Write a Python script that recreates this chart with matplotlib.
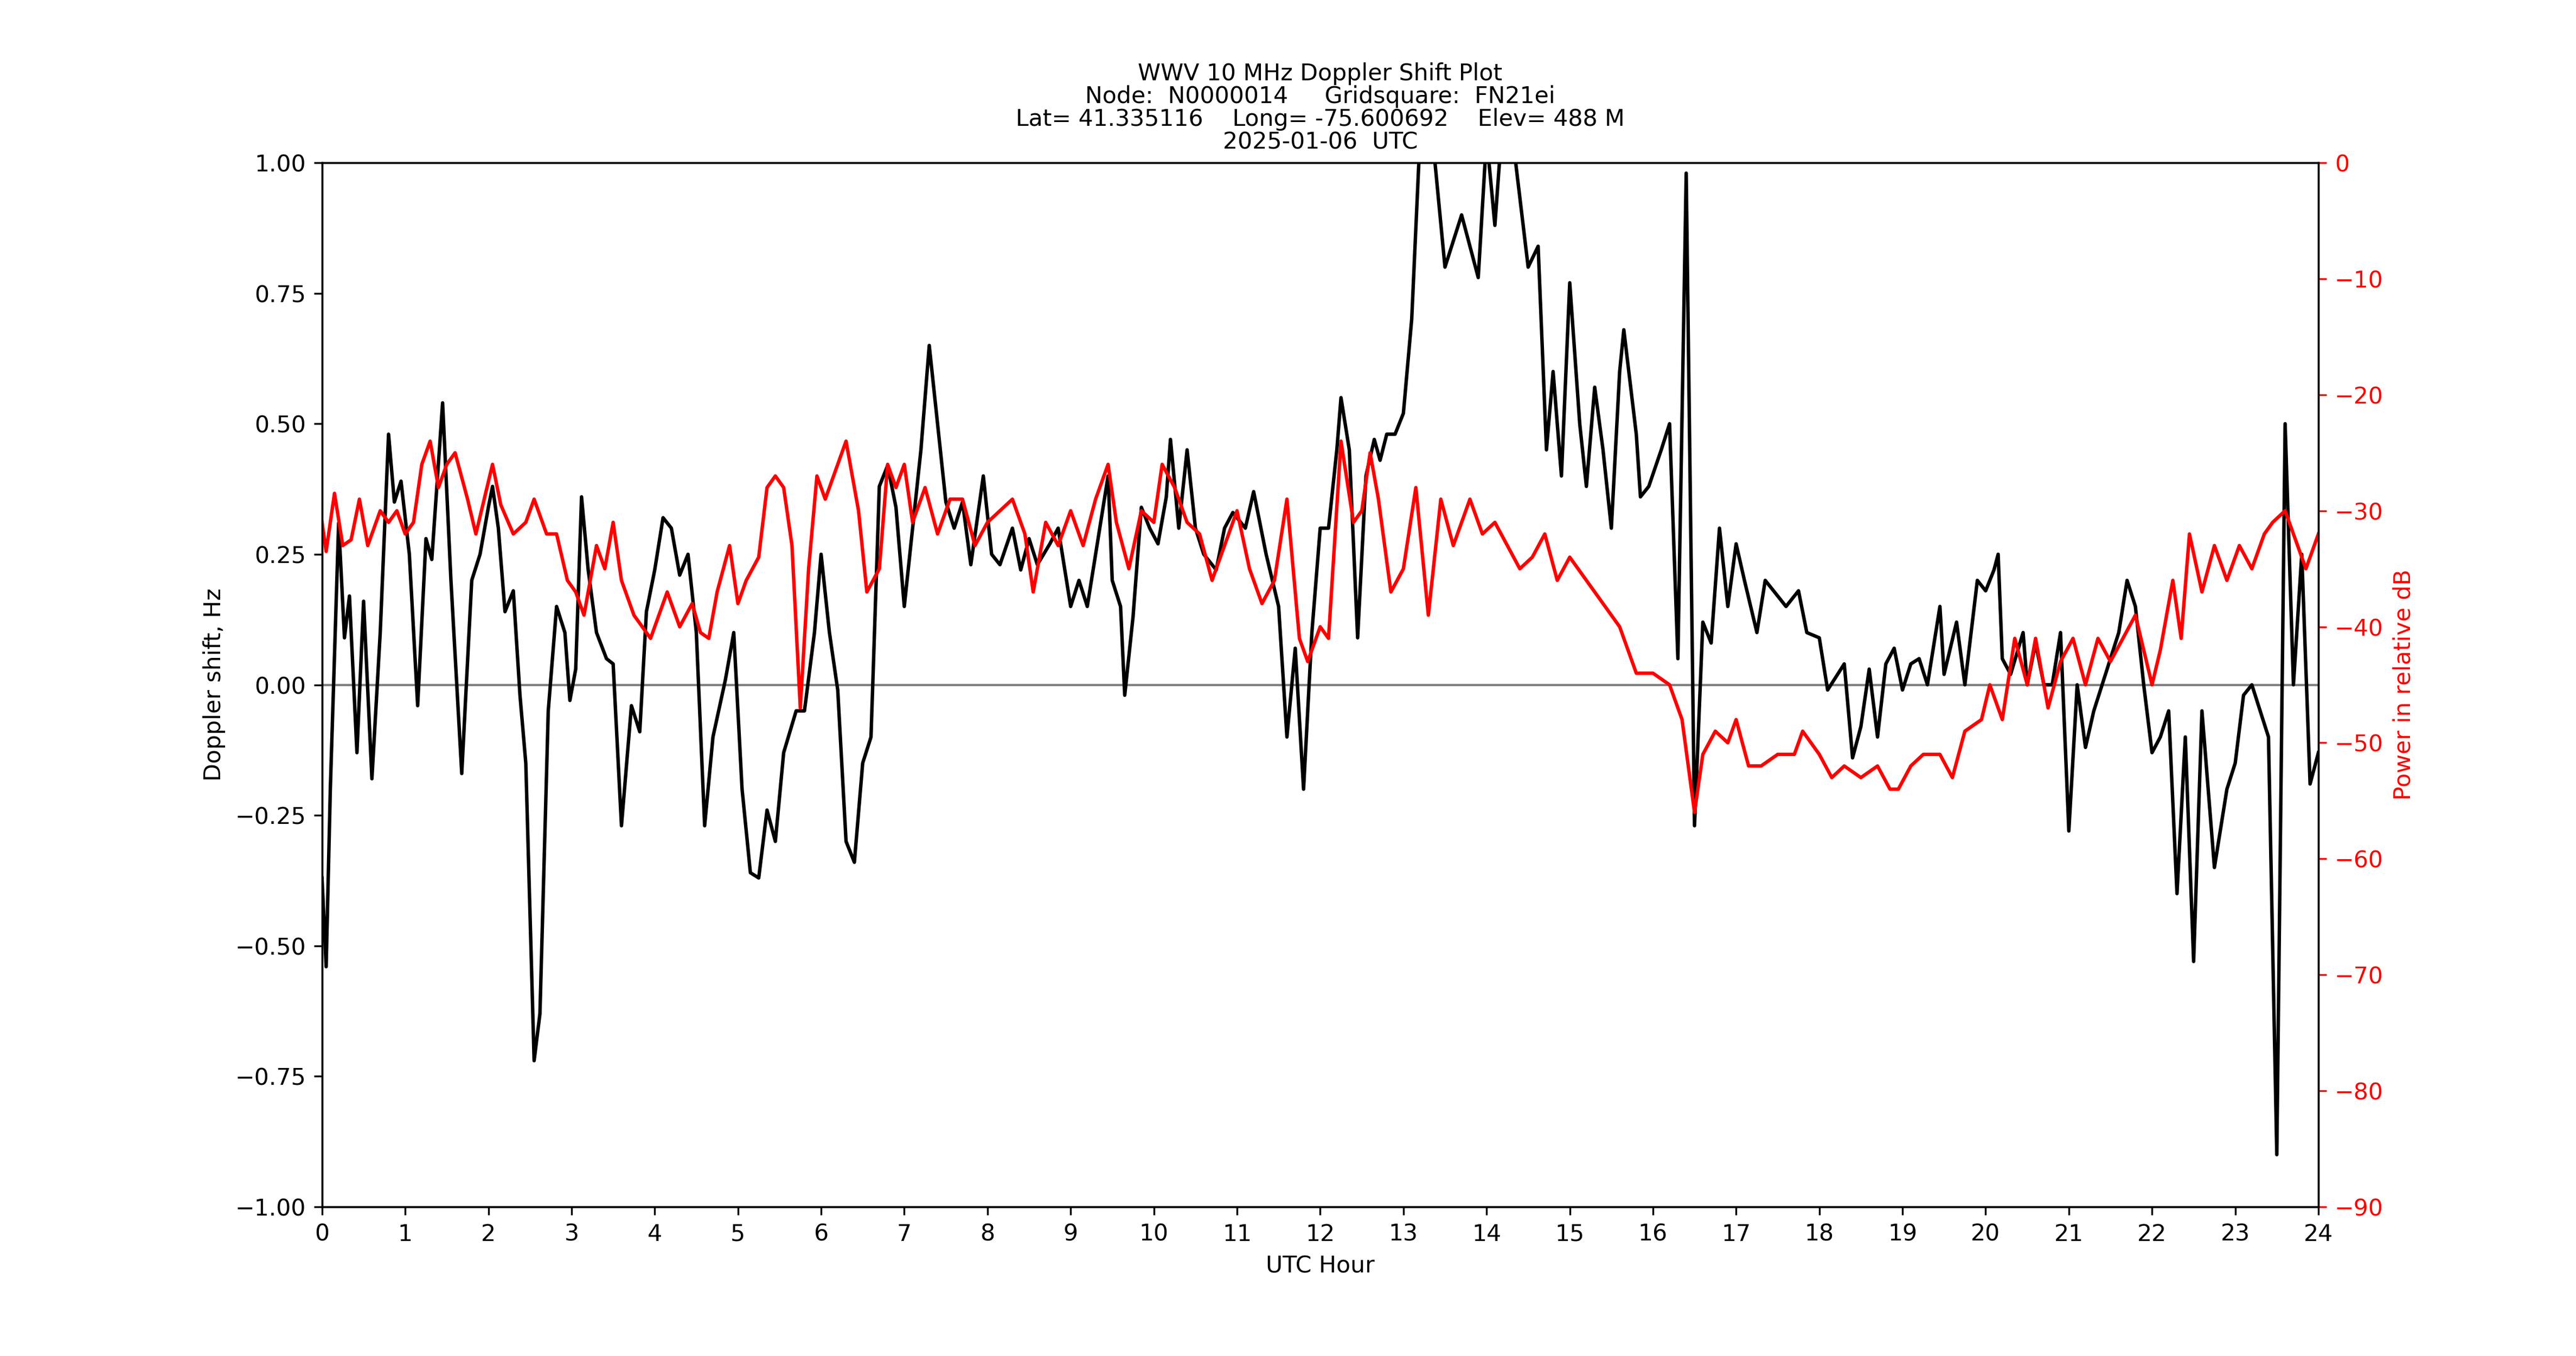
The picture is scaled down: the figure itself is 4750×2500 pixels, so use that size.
import numpy as np
from matplotlib import pyplot as plt

# Doppler shift (hours, Hz)
dop_hr = [0, 0.05, 0.1, 0.2, 0.27, 0.33, 0.42, 0.5, 0.6, 0.7, 0.8, 0.87, 0.95, 1.05, 1.15, 1.25, 1.32, 1.45, 1.55, 1.68,
          1.8, 1.9, 2.0, 2.05, 2.12, 2.2, 2.3, 2.38, 2.45, 2.55, 2.62, 2.72, 2.82, 2.92, 2.98, 3.05, 3.12, 3.2, 3.3, 3.42,
          3.5, 3.6, 3.72, 3.82, 3.9, 4.0, 4.1, 4.2, 4.3, 4.4, 4.5, 4.6, 4.7, 4.85, 4.95, 5.05, 5.15, 5.25, 5.35, 5.45,
          5.55, 5.7, 5.8, 5.92, 6.0, 6.1, 6.2, 6.3, 6.4, 6.5, 6.6, 6.7, 6.8, 6.9, 7.0, 7.1, 7.2, 7.3, 7.4, 7.5,
          7.6, 7.7, 7.8, 7.95, 8.05, 8.15, 8.3, 8.4, 8.5, 8.6, 8.75, 8.85, 9.0, 9.1, 9.2, 9.35, 9.45, 9.5, 9.6, 9.65,
          9.75, 9.85, 9.95, 10.05, 10.15, 10.2, 10.3, 10.4, 10.5, 10.6, 10.75, 10.85, 10.95, 11.1, 11.2, 11.35, 11.5, 11.6, 11.7, 11.8,
          11.9, 12.0, 12.1, 12.2, 12.25, 12.35, 12.45, 12.55, 12.65, 12.72, 12.8, 12.9, 13.0, 13.1, 13.2, 13.35, 13.5, 13.7, 13.9, 14.0,
          14.1, 14.2, 14.35, 14.5, 14.62, 14.72, 14.8, 14.9, 15.0, 15.12, 15.2, 15.3, 15.4, 15.5, 15.6, 15.65, 15.8, 15.85, 15.95, 16.1,
          16.2, 16.3, 16.4, 16.5, 16.6, 16.7, 16.8, 16.9, 17.0, 17.1, 17.25, 17.35, 17.5, 17.6, 17.75, 17.85, 18.0, 18.1, 18.3, 18.4,
          18.5, 18.6, 18.7, 18.8, 18.9, 19.0, 19.1, 19.2, 19.3, 19.45, 19.5, 19.65, 19.75, 19.9, 20.0, 20.1, 20.15, 20.2, 20.3, 20.45,
          20.5, 20.6, 20.7, 20.8, 20.9, 21.0, 21.1, 21.2, 21.3, 21.4, 21.5, 21.6, 21.7, 21.8, 21.9, 22.0, 22.1, 22.2, 22.3, 22.4,
          22.5, 22.6, 22.75, 22.9, 23.0, 23.1, 23.2, 23.3, 23.4, 23.5, 23.55, 23.6, 23.7, 23.8, 23.9, 24.0]
dop_hz = [-0.37, -0.54, -0.2, 0.31, 0.09, 0.17, -0.13, 0.16, -0.18, 0.1, 0.48, 0.35, 0.39, 0.25, -0.04, 0.28, 0.24, 0.54, 0.2, -0.17,
          0.2, 0.25, 0.34, 0.38, 0.3, 0.14, 0.18, -0.02, -0.15, -0.72, -0.63, -0.05, 0.15, 0.1, -0.03, 0.03, 0.36, 0.22, 0.1, 0.05,
          0.04, -0.27, -0.04, -0.09, 0.14, 0.22, 0.32, 0.3, 0.21, 0.25, 0.1, -0.27, -0.1, 0.01, 0.1, -0.2, -0.36, -0.37, -0.24, -0.3,
          -0.13, -0.05, -0.05, 0.1, 0.25, 0.1, -0.01, -0.3, -0.34, -0.15, -0.1, 0.38, 0.42, 0.34, 0.15, 0.3, 0.45, 0.65, 0.5, 0.35,
          0.3, 0.35, 0.23, 0.4, 0.25, 0.23, 0.3, 0.22, 0.28, 0.23, 0.27, 0.3, 0.15, 0.2, 0.15, 0.3, 0.4, 0.2, 0.15, -0.02,
          0.13, 0.34, 0.3, 0.27, 0.36, 0.47, 0.3, 0.45, 0.3, 0.25, 0.22, 0.3, 0.33, 0.3, 0.37, 0.25, 0.15, -0.1, 0.07, -0.2,
          0.1, 0.3, 0.3, 0.45, 0.55, 0.45, 0.09, 0.4, 0.47, 0.43, 0.48, 0.48, 0.52, 0.7, 1.05, 1.05, 0.8, 0.9, 0.78, 1.05,
          0.88, 1.1, 1.0, 0.8, 0.84, 0.45, 0.6, 0.4, 0.77, 0.5, 0.38, 0.57, 0.45, 0.3, 0.6, 0.68, 0.48, 0.36, 0.38, 0.45,
          0.5, 0.05, 0.98, -0.27, 0.12, 0.08, 0.3, 0.15, 0.27, 0.2, 0.1, 0.2, 0.17, 0.15, 0.18, 0.1, 0.09, -0.01, 0.04, -0.14,
          -0.08, 0.03, -0.1, 0.04, 0.07, -0.01, 0.04, 0.05, 0.0, 0.15, 0.02, 0.12, 0.0, 0.2, 0.18, 0.22, 0.25, 0.05, 0.02, 0.1,
          0.0, 0.08, 0.0, 0.0, 0.1, -0.28, 0.0, -0.12, -0.05, 0.0, 0.05, 0.1, 0.2, 0.15, 0.0, -0.13, -0.1, -0.05, -0.4, -0.1,
          -0.53, -0.05, -0.35, -0.2, -0.15, -0.02, 0.0, -0.05, -0.1, -0.9, -0.2, 0.5, 0.0, 0.25, -0.19, -0.13]

# Power (hours, relative dB)
pwr_hr = [0, 0.05, 0.15, 0.25, 0.35, 0.45, 0.55, 0.7, 0.8, 0.9, 1.0, 1.1, 1.2, 1.3, 1.4, 1.5, 1.6, 1.75, 1.85, 2.05,
          2.15, 2.3, 2.45, 2.55, 2.7, 2.82, 2.95, 3.05, 3.15, 3.3, 3.4, 3.5, 3.6, 3.75, 3.85, 3.95, 4.05, 4.15, 4.3, 4.45,
          4.55, 4.65, 4.75, 4.9, 5.0, 5.1, 5.25, 5.35, 5.45, 5.55, 5.65, 5.75, 5.85, 5.95, 6.05, 6.2, 6.3, 6.45, 6.55, 6.7,
          6.8, 6.9, 7.0, 7.1, 7.25, 7.4, 7.55, 7.7, 7.85, 8.0, 8.15, 8.3, 8.45, 8.55, 8.7, 8.85, 9.0, 9.15, 9.3, 9.45,
          9.55, 9.7, 9.85, 10.0, 10.1, 10.25, 10.4, 10.55, 10.7, 10.85, 11.0, 11.15, 11.3, 11.45, 11.6, 11.75, 11.85, 12.0, 12.1, 12.25,
          12.4, 12.5, 12.6, 12.7, 12.85, 13.0, 13.15, 13.3, 13.45, 13.6, 13.8, 13.95, 14.1, 14.25, 14.4, 14.55, 14.7, 14.85, 15.0, 15.2,
          15.4, 15.6, 15.8, 16.0, 16.2, 16.35, 16.5, 16.6, 16.75, 16.9, 17.0, 17.15, 17.3, 17.5, 17.7, 17.8, 18.0, 18.15, 18.3, 18.5,
          18.7, 18.85, 18.95, 19.1, 19.25, 19.45, 19.6, 19.75, 19.95, 20.05, 20.2, 20.35, 20.5, 20.6, 20.75, 20.9, 21.05, 21.2, 21.35, 21.5,
          21.65, 21.8, 22.0, 22.1, 22.25, 22.35, 22.45, 22.6, 22.75, 22.9, 23.05, 23.2, 23.35, 23.45, 23.6, 23.75, 23.85, 24.0]
pwr_db = [-31, -33.5, -28.5, -33, -32.5, -29, -33, -30, -31, -30, -32, -31, -26, -24, -28, -26, -25, -29, -32, -26,
          -29.5, -32, -31, -29, -32, -32, -36, -37, -39, -33, -35, -31, -36, -39, -40, -41, -39, -37, -40, -38,
          -40.5, -41, -37, -33, -38, -36, -34, -28, -27, -28, -33, -47, -35, -27, -29, -26, -24, -30, -37, -35,
          -26, -28, -26, -31, -28, -32, -29, -29, -33, -31, -30, -29, -32, -37, -31, -33, -30, -33, -29, -26,
          -31, -35, -30, -31, -26, -28, -31, -32, -36, -33, -30, -35, -38, -36, -29, -41, -43, -40, -41, -24,
          -31, -30, -25, -29, -37, -35, -28, -39, -29, -33, -29, -32, -31, -33, -35, -34, -32, -36, -34, -36,
          -38, -40, -44, -44, -45, -48, -56, -51, -49, -50, -48, -52, -52, -51, -51, -49, -51, -53, -52, -53,
          -52, -54, -54, -52, -51, -51, -53, -49, -48, -45, -48, -41, -45, -41, -47, -43, -41, -45, -41, -43,
          -41, -39, -45, -42, -36, -41, -32, -37, -33, -36, -33, -35, -32, -31, -30, -33, -35, -32]

hour_ticks = list(range(0, 25))

plt.rcParams['font.size'] = 10
fig = plt.figure(figsize=(4750 / 306.5, 2500 / 306.5), dpi=306.5)
fig.subplots_adjust(left=0.125, right=0.9, top=0.88, bottom=0.11)
ax1 = fig.add_subplot(111)

ax1.axhline(0, color='grey', linewidth=1)
ax1.plot(dop_hr, dop_hz, color='black', linewidth=1.5)
ax1.set_xlim(0, 24)
ax1.set_ylim(-1, 1)
ax1.set_xticks(hour_ticks)
ax1.set_yticks(np.arange(-1, 1.01, 0.25))
ax1.set_xlabel('UTC Hour')
ax1.set_ylabel('Doppler shift, Hz')
ax1.set_title('WWV 10 MHz Doppler Shift Plot\n'
              'Node:  N0000014     Gridsquare:  FN21ei\n'
              'Lat= 41.335116    Long= -75.600692    Elev= 488 M\n'
              '2025-01-06  UTC', fontsize=10, linespacing=1.0)

ax2 = ax1.twinx()
ax2.plot(pwr_hr, pwr_db, color='red', linewidth=1.5)
ax2.set_ylim(-90, 0)
ax2.set_yticks(range(-90, 1, 10))
ax2.set_ylabel('Power in relative dB', color='red')
ax2.tick_params(axis='y', colors='red')

plt.savefig('out.png')
